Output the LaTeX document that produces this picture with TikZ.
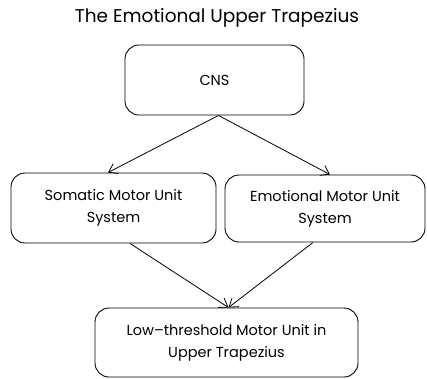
\documentclass[tikz,border=0pt]{standalone}
\usepackage{fontspec}
\setmainfont{Poppins}
\usetikzlibrary{arrows.meta}
\begin{document}
\begin{tikzpicture}[x=1pt,y=-1pt,
  box/.style={draw,line width=0.9pt,rounded corners=14pt,align=center,inner sep=0pt,font=\fontsize{14.5}{22}\selectfont},
  arr/.style={line width=0.8pt,-{Straight Barb[length=8pt,width=11pt]}}]
\useasboundingbox (0,0) rectangle (427,378);
\node[font=\fontsize{18.5}{20}\selectfont] (title) at (217,18) {The Emotional Upper Trapezius};
\node[box,minimum width=179pt,minimum height=70pt] (cns) at (214.5,80) {CNS};
\node[box,minimum width=205pt,minimum height=70pt] (som) at (113.5,208) {Somatic Motor Unit\\System};
\node[box,minimum width=200pt,minimum height=67pt] (emo) at (325,208.5) {Emotional Motor Unit\\System};
\node[box,minimum width=263pt,minimum height=69pt] (low) at (226.5,342.5) {Low--threshold Motor Unit in\\Upper Trapezius};
\draw[arr] ([xshift=4pt]cns.south) -- ([xshift=-5.5pt]som.north);
\draw[arr] ([xshift=4pt]cns.south) -- ([xshift=5pt]emo.north);
\draw[arr] ([xshift=16.5pt]som.south) -- ([xshift=2pt]low.north);
\draw[arr] ([xshift=-12pt]emo.south) -- ([xshift=2pt]low.north);
\end{tikzpicture}
\end{document}
